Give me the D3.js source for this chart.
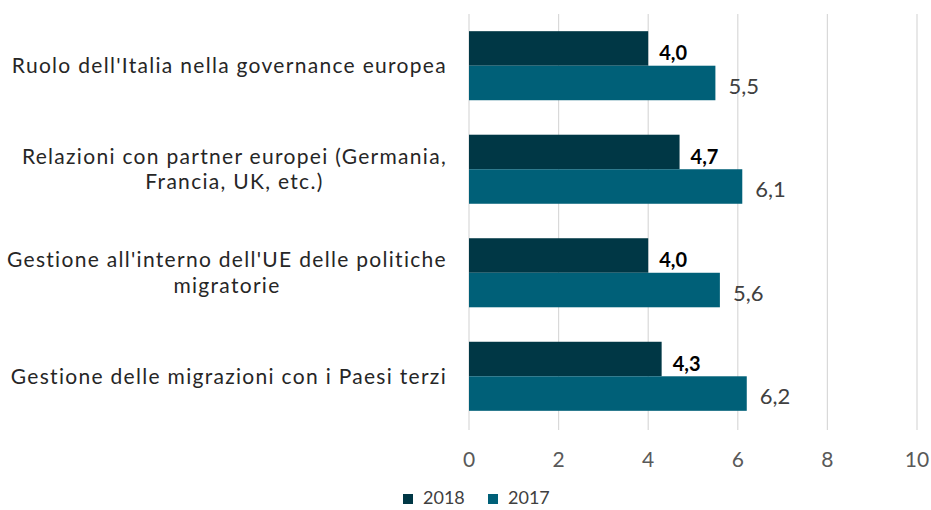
<!DOCTYPE html>
<html>
<head>
<meta charset="utf-8">
<script src="https://cdn.jsdelivr.net/npm/d3@7"></script>
<style>
  body { margin: 0; background: #fff; }
  text { font-family: Lato, "Open Sans", sans-serif; }
</style>
</head>
<body>
<svg id="chart" width="931" height="510"></svg>
<script>
// valutazione media per ambito, 2018 vs 2017
const categories = [
    ["Ruolo dell'Italia nella governance europea"],
    ["Relazioni con partner europei (Germania,", "Francia, UK, etc.)"],
    ["Gestione all'interno dell'UE delle politiche", "migratorie"],
    ["Gestione delle migrazioni con i Paesi terzi"]
];
const series = ["2018", "2017"];
const values2018 = [4.0, 4.7, 4.0, 4.3];
const values2017 = [5.5, 6.1, 5.6, 6.2];
const xTicks = [0, 2, 4, 6, 8, 10];

const colors = { "2018": "#003745", "2017": "#006078" };

const margin = { top: 14, left: 469 };

const svg = d3.select("#chart");

const x = d3.scaleLinear().domain([0, 10]).range([margin.left, 917]);
const y = d3.scaleBand()
    .domain(d3.range(categories.length))
    .range([margin.top, 428])
    .paddingInner(0.333)
    .paddingOuter(0.166);
const ySub = d3.scaleBand().domain(series).range([0, y.bandwidth()]);

// gridlines
svg.append("g")
    .selectAll("line")
    .data(xTicks)
    .join("line")
    .attr("x1", d => x(d))
    .attr("x2", d => x(d))
    .attr("y1", 14)
    .attr("y2", 430)
    .attr("stroke", "#d9d9d9")
    .attr("stroke-width", 1.2);

// tick labels
svg.append("g")
    .selectAll("text")
    .data(xTicks)
    .join("text")
    .attr("x", d => x(d))
    .attr("y", 460)
    .attr("dy", "0.35em")
    .attr("text-anchor", "middle")
    .attr("fill", "#595959")
    .style("font-size", "21px")
    .text(d => d);

const rows = categories.map((c, i) => ({ i, lines: c, v2018: values2018[i], v2017: values2017[i] }));

const groups = svg.append("g")
    .selectAll("g")
    .data(rows)
    .join("g")
    .attr("transform", d => `translate(0,${y(d.i)})`);

groups.append("rect")
    .attr("x", x(0))
    .attr("y", ySub("2018"))
    .attr("width", d => x(d.v2018) - x(0))
    .attr("height", ySub.bandwidth())
    .attr("fill", colors["2018"]);

groups.append("rect")
    .attr("x", x(0))
    .attr("y", ySub("2017"))
    .attr("width", d => x(d.v2017) - x(0))
    .attr("height", ySub.bandwidth())
    .attr("fill", colors["2017"]);

const fmt = v => v.toFixed(1).replace(".", ",");

groups.append("text")
    .attr("x", d => x(d.v2018) + 11)
    .attr("y", ySub("2018") + ySub.bandwidth() / 2 + 5)
    .attr("dy", "0.35em")
    .attr("fill", "#000")
    .style("font-size", "20px")
    .style("font-weight", "bold")
    .text(d => fmt(d.v2018));

groups.append("text")
    .attr("x", d => x(d.v2017) + 13)
    .attr("y", ySub("2017") + ySub.bandwidth() / 2 + 3)
    .attr("dy", "0.35em")
    .attr("fill", "#404040")
    .style("font-size", "22px")
    .text(d => fmt(d.v2017));

// category labels, lines centred among themselves, block right-aligned
const labelRight = 447;
const lineH = 25.5;
groups.each(function (d) {
    const g = d3.select(this);
    const t = g.append("text")
        .attr("fill", "#262626")
        .style("font-size", "21px")
        .style("letter-spacing", "1.3px")
        .attr("text-anchor", "middle");
    const n = d.lines.length;
    const spans = t.selectAll("tspan")
        .data(d.lines)
        .join("tspan")
        .attr("y", (l, k) => y.bandwidth() / 2 + (k - (n - 1) / 2) * lineH)
        .attr("dy", "0.35em")
        .text(l => l);
    const maxW = d3.max(spans.nodes(), s => s.getComputedTextLength());
    spans.attr("x", labelRight - maxW / 2);
});

// legend
const legend = svg.append("g")
    .attr("transform", "translate(403,498)");
const items = legend.selectAll("g")
    .data(series)
    .join("g")
    .attr("transform", (d, i) => `translate(${i * 85},0)`);
items.append("rect")
    .attr("x", 0)
    .attr("y", -4)
    .attr("width", 10)
    .attr("height", 10)
    .attr("fill", d => colors[d]);
items.append("text")
    .attr("x", 20)
    .attr("y", 0)
    .attr("dy", "0.35em")
    .attr("fill", "#404040")
    .style("font-size", "18px")
    .text(d => d);
</script>
</body>
</html>
